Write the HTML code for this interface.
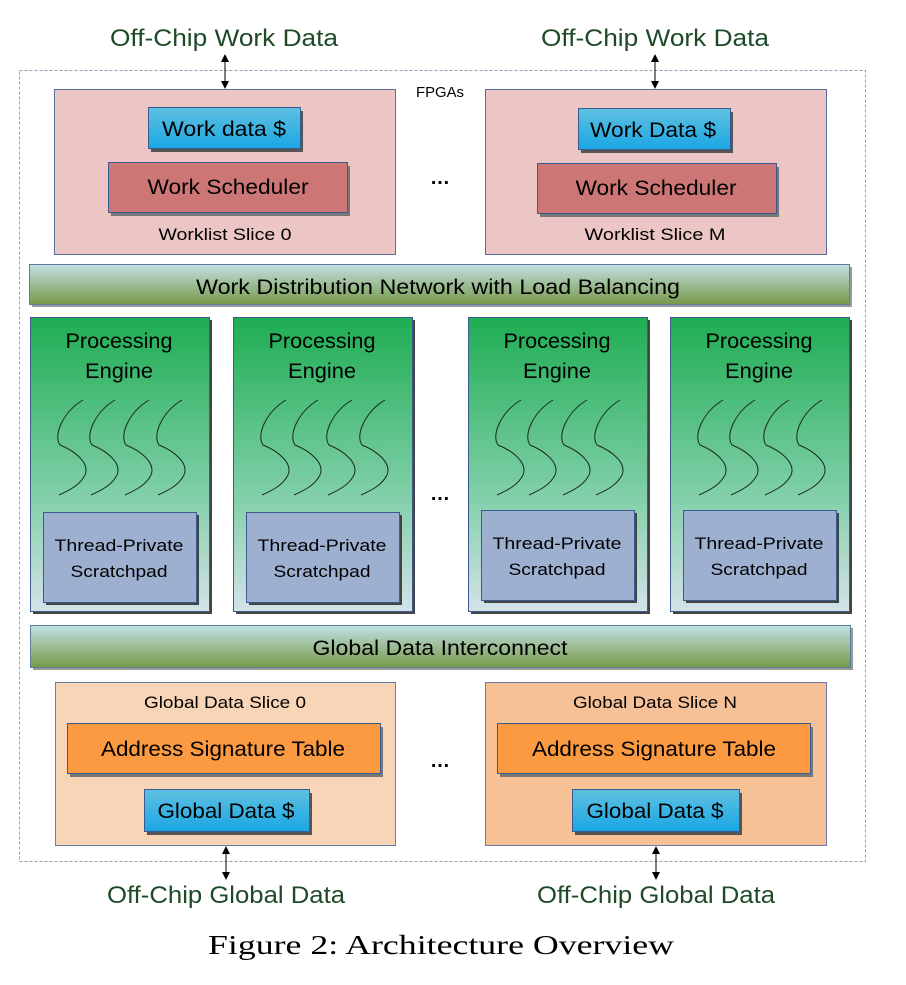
<!DOCTYPE html>
<html><head><meta charset="utf-8"><style>
html,body{margin:0;padding:0;background:#fff;}
svg text{font-family:"Liberation Sans",sans-serif;}
</style></head><body>
<svg width="906" height="980" viewBox="0 0 906 980" xmlns="http://www.w3.org/2000/svg">
<defs>
<linearGradient id="blue" x1="0" y1="0" x2="0" y2="1"><stop offset="0" stop-color="#5fc0e0"/><stop offset="1" stop-color="#1aa7e4"/></linearGradient>
<linearGradient id="bar" x1="0" y1="0" x2="0" y2="1"><stop offset="0" stop-color="#c2e0e2"/><stop offset="1" stop-color="#77994a"/></linearGradient>
<linearGradient id="pe" x1="0" y1="0" x2="0" y2="1"><stop offset="0" stop-color="#1ead52"/><stop offset="0.6" stop-color="#80cfa8"/><stop offset="1" stop-color="#d3e2e8"/></linearGradient>
<marker id="ah" markerWidth="8" markerHeight="8" refX="4" refY="4" orient="auto-start-reverse" markerUnits="userSpaceOnUse"><path d="M0,0 L8,4 L0,8 z" fill="#000"/></marker>
<g id="threads" fill="none" stroke="#1a2a20" stroke-width="1">
<path d="M53,83 C33,95 23,118 30,128 C45,134 60,146 55,158 C50,168 40,173 29,178"/>
<path d="M85,83 C65,95 55,118 62,128 C77,134 92,146 87,158 C82,168 72,173 61,178"/>
<path d="M119,83 C99,95 89,118 96,128 C111,134 126,146 121,158 C116,168 106,173 95,178"/>
<path d="M152,83 C132,95 122,118 129,128 C144,134 159,146 154,158 C149,168 139,173 128,178"/>
</g>
<g id="pecontent">
<text x="89" y="31" font-size="21" text-anchor="middle" textLength="107" lengthAdjust="spacingAndGlyphs">Processing</text>
<text x="89" y="61" font-size="21" text-anchor="middle" textLength="68" lengthAdjust="spacingAndGlyphs">Engine</text>
<use href="#threads"/>
</g>
</defs>

<rect x="19.5" y="70.5" width="846" height="791" fill="none" stroke="#8da0b8" stroke-width="1" stroke-dasharray="3,2"/>
<text x="440" y="97" font-size="15" text-anchor="middle" textLength="48" lengthAdjust="spacingAndGlyphs">FPGAs</text>

<text x="224" y="46" font-size="24" fill="#1e4a28" text-anchor="middle" textLength="228" lengthAdjust="spacingAndGlyphs">Off-Chip Work Data</text>
<text x="655" y="46" font-size="24" fill="#1e4a28" text-anchor="middle" textLength="228" lengthAdjust="spacingAndGlyphs">Off-Chip Work Data</text>
<line x1="225" y1="58" x2="225" y2="85" stroke="#000" marker-start="url(#ah)" marker-end="url(#ah)"/>
<line x1="655" y1="58" x2="655" y2="85" stroke="#000" marker-start="url(#ah)" marker-end="url(#ah)"/>

<rect x="54.5" y="89.5" width="341" height="165" fill="#ebc6c5" stroke="#5a6fa0"/>
<rect x="485.5" y="89.5" width="341" height="165" fill="#ebc6c5" stroke="#5a6fa0"/>
<rect x="151" y="111" width="152" height="41" fill="#555"/>
<rect x="148.5" y="107.5" width="152" height="41" fill="url(#blue)" stroke="#3a5a90"/>
<text x="224" y="136" font-size="21" text-anchor="middle" textLength="124" lengthAdjust="spacingAndGlyphs">Work data $</text>
<rect x="111" y="166" width="239" height="50" fill="#777"/>
<rect x="108.5" y="162.5" width="239" height="50" fill="#cc7775" stroke="#3a5a90"/>
<text x="228" y="194" font-size="21" text-anchor="middle" textLength="161" lengthAdjust="spacingAndGlyphs">Work Scheduler</text>
<text x="225" y="240" font-size="17" text-anchor="middle" textLength="133" lengthAdjust="spacingAndGlyphs">Worklist Slice 0</text>
<rect x="581" y="112" width="152" height="41" fill="#555"/>
<rect x="578.5" y="108.5" width="152" height="41" fill="url(#blue)" stroke="#3a5a90"/>
<text x="653" y="137" font-size="21" text-anchor="middle" textLength="126" lengthAdjust="spacingAndGlyphs">Work Data $</text>
<rect x="540" y="167" width="239" height="50" fill="#777"/>
<rect x="537.5" y="163.5" width="239" height="50" fill="#cc7775" stroke="#3a5a90"/>
<text x="656" y="195" font-size="21" text-anchor="middle" textLength="161" lengthAdjust="spacingAndGlyphs">Work Scheduler</text>
<text x="655" y="240" font-size="17" text-anchor="middle" textLength="141" lengthAdjust="spacingAndGlyphs">Worklist Slice M</text>
<text x="440" y="184" font-size="20" font-weight="bold" text-anchor="middle">…</text>

<rect x="32" y="267" width="820" height="40" fill="#999"/>
<rect x="29.5" y="264.5" width="820" height="40" fill="url(#bar)" stroke="#5a7fa0"/>
<text x="438" y="294" font-size="21" text-anchor="middle" textLength="484" lengthAdjust="spacingAndGlyphs">Work Distribution Network with Load Balancing</text>

<g transform="translate(30,317)">
<rect x="3" y="3" width="179" height="294" fill="#444"/>
<rect x="0.5" y="0.5" width="179" height="294" fill="url(#pe)" stroke="#3a5a90"/>
<use href="#pecontent"/>
<rect x="16" y="198" width="153" height="90" fill="#444"/>
<rect x="13.5" y="195.5" width="153" height="90" fill="#9db0d0" stroke="#3a5a90"/>
<text x="89" y="234" font-size="17" text-anchor="middle" textLength="129" lengthAdjust="spacingAndGlyphs">Thread-Private</text>
<text x="89" y="260" font-size="17" text-anchor="middle" textLength="97" lengthAdjust="spacingAndGlyphs">Scratchpad</text>
</g>
<g transform="translate(233,317)">
<rect x="3" y="3" width="179" height="294" fill="#444"/>
<rect x="0.5" y="0.5" width="179" height="294" fill="url(#pe)" stroke="#3a5a90"/>
<use href="#pecontent"/>
<rect x="16" y="198" width="153" height="90" fill="#444"/>
<rect x="13.5" y="195.5" width="153" height="90" fill="#9db0d0" stroke="#3a5a90"/>
<text x="89" y="234" font-size="17" text-anchor="middle" textLength="129" lengthAdjust="spacingAndGlyphs">Thread-Private</text>
<text x="89" y="260" font-size="17" text-anchor="middle" textLength="97" lengthAdjust="spacingAndGlyphs">Scratchpad</text>
</g>
<g transform="translate(468,317)">
<rect x="3" y="3" width="179" height="294" fill="#444"/>
<rect x="0.5" y="0.5" width="179" height="294" fill="url(#pe)" stroke="#3a5a90"/>
<use href="#pecontent"/>
<rect x="16" y="196" width="153" height="90" fill="#444"/>
<rect x="13.5" y="193.5" width="153" height="90" fill="#9db0d0" stroke="#3a5a90"/>
<text x="89" y="232" font-size="17" text-anchor="middle" textLength="129" lengthAdjust="spacingAndGlyphs">Thread-Private</text>
<text x="89" y="258" font-size="17" text-anchor="middle" textLength="97" lengthAdjust="spacingAndGlyphs">Scratchpad</text>
</g>
<g transform="translate(670,317)">
<rect x="3" y="3" width="179" height="294" fill="#444"/>
<rect x="0.5" y="0.5" width="179" height="294" fill="url(#pe)" stroke="#3a5a90"/>
<use href="#pecontent"/>
<rect x="16" y="196" width="153" height="90" fill="#444"/>
<rect x="13.5" y="193.5" width="153" height="90" fill="#9db0d0" stroke="#3a5a90"/>
<text x="89" y="232" font-size="17" text-anchor="middle" textLength="129" lengthAdjust="spacingAndGlyphs">Thread-Private</text>
<text x="89" y="258" font-size="17" text-anchor="middle" textLength="97" lengthAdjust="spacingAndGlyphs">Scratchpad</text>
</g>
<text x="440" y="500" font-size="20" font-weight="bold" text-anchor="middle">…</text>

<rect x="33" y="628" width="820" height="42" fill="#999"/>
<rect x="30.5" y="625.5" width="820" height="42" fill="url(#bar)" stroke="#5a7fa0"/>
<text x="440" y="655" font-size="21" text-anchor="middle" textLength="255" lengthAdjust="spacingAndGlyphs">Global Data Interconnect</text>

<rect x="55.5" y="682.5" width="340" height="163" fill="#f9d5b8" stroke="#6a7fa8"/>
<rect x="485.5" y="682.5" width="341" height="163" fill="#f7c198" stroke="#6a7fa8"/>
<text x="225" y="708" font-size="17" text-anchor="middle" textLength="162" lengthAdjust="spacingAndGlyphs">Global Data Slice 0</text>
<text x="655" y="708" font-size="17" text-anchor="middle" textLength="164" lengthAdjust="spacingAndGlyphs">Global Data Slice N</text>
<rect x="70" y="727" width="313" height="50" fill="#777"/>
<rect x="67.5" y="723.5" width="313" height="50" fill="#fb9a40" stroke="#3a5a90"/>
<text x="223" y="756" font-size="21" text-anchor="middle" textLength="244" lengthAdjust="spacingAndGlyphs">Address Signature Table</text>
<rect x="500" y="727" width="313" height="50" fill="#777"/>
<rect x="497.5" y="723.5" width="313" height="50" fill="#fb9a40" stroke="#3a5a90"/>
<text x="654" y="756" font-size="21" text-anchor="middle" textLength="244" lengthAdjust="spacingAndGlyphs">Address Signature Table</text>
<rect x="147" y="793" width="165" height="42" fill="#555"/>
<rect x="144.5" y="789.5" width="165" height="42" fill="url(#blue)" stroke="#3a5a90"/>
<text x="226" y="818" font-size="21" text-anchor="middle" textLength="137" lengthAdjust="spacingAndGlyphs">Global Data $</text>
<rect x="575" y="793" width="167" height="42" fill="#555"/>
<rect x="572.5" y="789.5" width="167" height="42" fill="url(#blue)" stroke="#3a5a90"/>
<text x="655" y="818" font-size="21" text-anchor="middle" textLength="137" lengthAdjust="spacingAndGlyphs">Global Data $</text>
<text x="440" y="767" font-size="20" font-weight="bold" text-anchor="middle">…</text>

<line x1="226" y1="850" x2="226" y2="876" stroke="#000" marker-start="url(#ah)" marker-end="url(#ah)"/>
<line x1="656" y1="850" x2="656" y2="876" stroke="#000" marker-start="url(#ah)" marker-end="url(#ah)"/>
<text x="226" y="903" font-size="24" fill="#1e4a28" text-anchor="middle" textLength="238" lengthAdjust="spacingAndGlyphs">Off-Chip Global Data</text>
<text x="656" y="903" font-size="24" fill="#1e4a28" text-anchor="middle" textLength="238" lengthAdjust="spacingAndGlyphs">Off-Chip Global Data</text>

<text x="441" y="954" font-size="27" text-anchor="middle" style="font-family:'Liberation Serif',serif" textLength="466" lengthAdjust="spacingAndGlyphs">Figure 2:  Architecture Overview</text>
</svg>
</body></html>
